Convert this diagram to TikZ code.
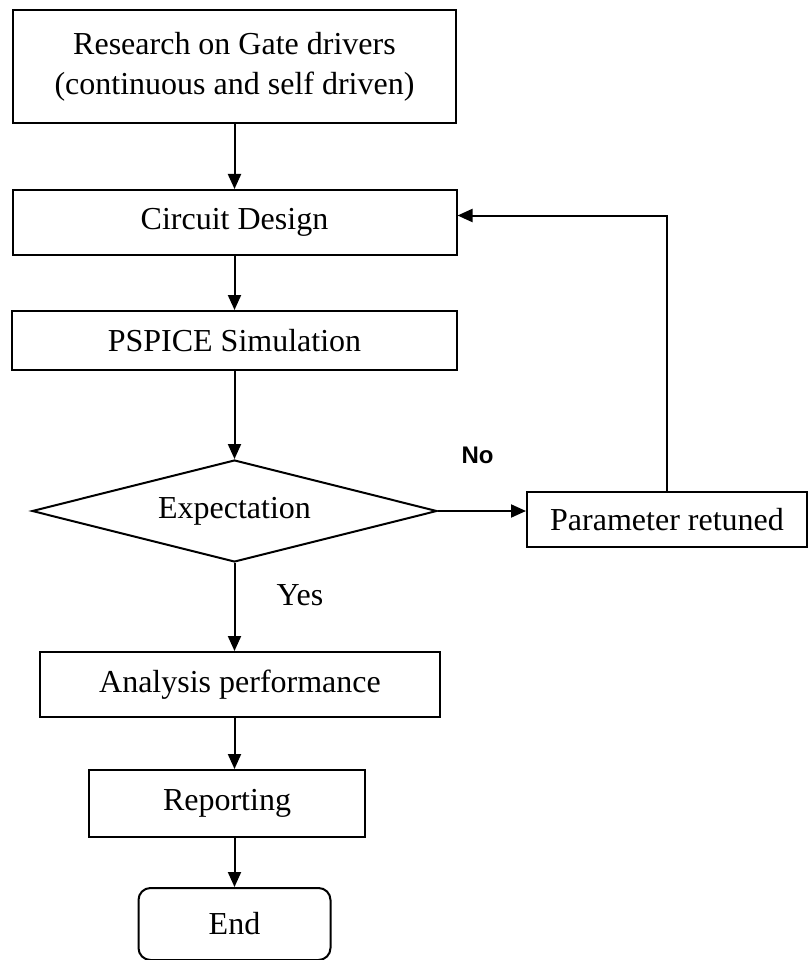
\documentclass[tikz,border=0pt]{standalone}
\usepackage{fontspec}
\setmainfont{Liberation Serif}
\newfontfamily\labelfont{Liberation Sans}
\usepackage{tikz}
\usetikzlibrary{shapes.geometric,arrows.meta}

\tikzset{
  stage/.style={draw, line width=2pt, inner sep=0pt, align=center,
    font=\fontsize{32}{40}\selectfont},
  decide/.style={stage, diamond, aspect=4},
  flow/.style={draw, line width=2pt, -{Triangle[length=15pt,width=13pt]}}
}

\begin{document}
\begin{tikzpicture}[x=1pt,y=-1pt]
        \useasboundingbox (0,0) rectangle (809,960);
        \node[stage, minimum width=443pt, minimum height=113pt] (res) at (234.5,66.5) {Research on Gate drivers\\(continuous and self driven)};
        \node[stage, minimum width=444pt, minimum height=65pt] (design) at (234.5,222.5) {Circuit Design};
        \node[stage, minimum width=445pt, minimum height=59pt] (sim) at (234.5,340.5) {PSPICE Simulation};
        \node[decide, minimum width=405pt, minimum height=102pt] (exp) at (234.5,511) {Expectation};
        \node[stage, minimum width=280pt, minimum height=55pt] (par) at (667,519.5) {Parameter retuned};
        \node[stage, minimum width=400pt, minimum height=65pt] (ana) at (240,684.5) {Analysis performance};
        \node[stage, minimum width=276pt, minimum height=67pt] (rep) at (227,803.5) {Reporting};
        \node[stage, rounded corners=12pt, minimum width=192pt, minimum height=72pt] (end) at (234.5,924) {End};
        \node[font=\labelfont\bfseries\fontsize{24}{28}\selectfont] (no) at (477.5,455) {No};
        \node[font=\fontsize{32}{40}\selectfont] (yes) at (300,595) {Yes};
        \path[flow] (res.south) -- (design.north);
        \path[flow] (design.south) -- (sim.north);
        \path[flow] (sim.south) -- (exp.north);
        \path[flow] (exp.south) -- (exp.south |- ana.north);
        \path[flow] (exp.east) -- (exp.east -| par.west);
        \path[flow] (par.north) |- ([yshift=7pt]design.east);
        \path[flow] (ana.south -| exp.south) -- (exp.south |- rep.north);
        \path[flow] (rep.south -| end.north) -- (end.north);
    \end{tikzpicture}
\end{document}
